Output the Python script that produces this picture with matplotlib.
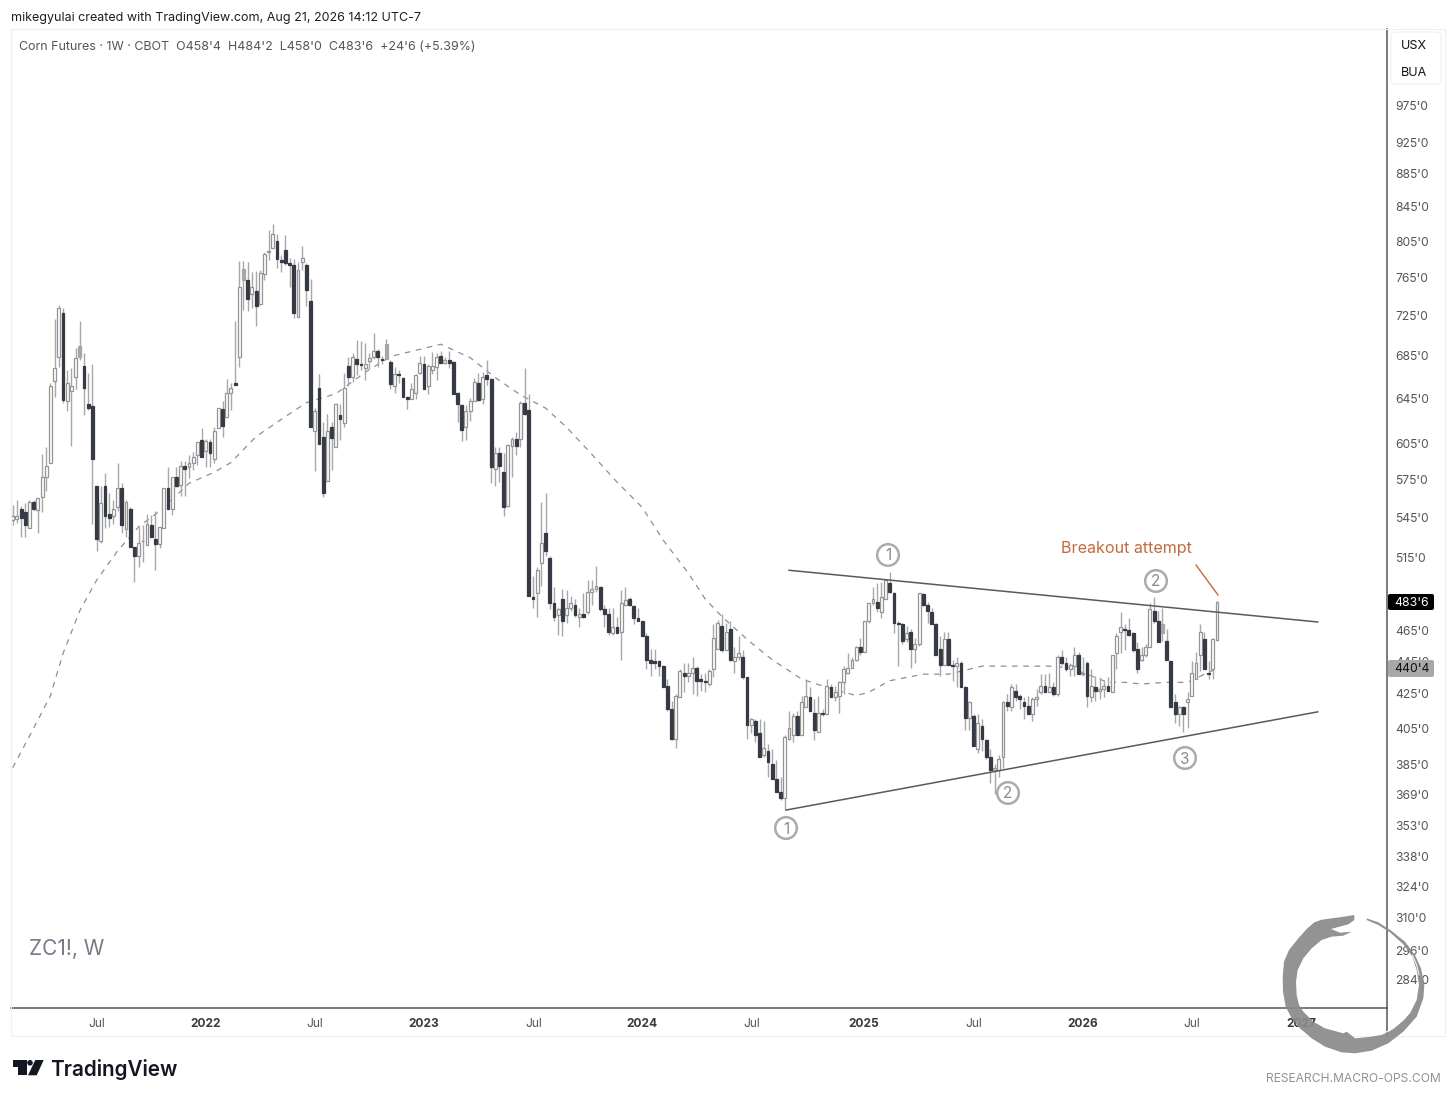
import matplotlib
matplotlib.use("Agg")
import matplotlib.pyplot as plt
from matplotlib.patches import Circle, FancyBboxPatch, Polygon
from matplotlib.ticker import NullLocator

plt.rcParams['font.family'] = ['Inter', 'DejaVu Sans']

# weekly candles (cents per bushel)
opens = [
    543, 544, 552, 549, 537, 557, 551, 561, 577, 589, 661, 684,
    727, 642, 652, 665, 684, 675, 640, 638, 570, 527, 570, 548,
    546, 553, 568, 536, 552, 523, 516, 527, 524, 539, 529, 525,
    537, 568, 552, 577, 571, 586, 585, 589, 595, 608, 599, 606,
    592, 618, 635, 628, 650, 659, 684, 774, 762, 747, 750, 737,
    769, 793, 797, 805, 784, 795, 780, 778, 723, 782, 778, 740,
    616, 654, 611, 574, 619, 602, 630, 623, 675, 665, 682, 677,
    673, 680, 684, 689, 682, 682, 679, 656, 667, 664, 646, 644,
    650, 668, 677, 656, 671, 674, 685, 678, 681, 679, 650, 639,
    619, 633, 642, 659, 644, 666, 663, 584, 597, 581, 554, 603,
    609, 609, 641, 634, 487, 490, 511, 533, 515, 483, 475, 486,
    475, 480, 482, 474, 476, 477, 491, 493, 494, 479, 476, 463,
    467, 464, 482, 486, 481, 473, 471, 461, 446, 445, 445, 442,
    430, 416, 399, 423, 438, 436, 438, 441, 434, 433, 431, 440,
    453, 468, 452, 466, 445, 448, 448, 435, 407, 409, 402, 390,
    392, 385, 377, 370, 367, 399, 401, 412, 401, 417, 423, 414,
    403, 414, 413, 429, 423, 424, 432, 438, 441, 446, 454, 451,
    471, 483, 484, 477, 486, 497, 490, 470, 469, 459, 464, 453,
    456, 489, 482, 477, 469, 453, 443, 459, 443, 442, 444, 429,
    411, 412, 393, 406, 398, 389, 382, 382, 389, 420, 417, 427,
    424, 420, 418, 413, 422, 426, 430, 426, 429, 425, 448, 444,
    440, 442, 449, 437, 444, 423, 429, 427, 428, 430, 426, 450,
    464, 466, 465, 463, 453, 446, 449, 454, 478, 471, 469, 458,
    445, 420, 413, 417, 420, 424, 434, 449, 459, 438, 440, 458.5,
]
highs = [
    555, 559, 554, 556, 559, 559, 559, 596, 602, 659, 721, 736,
    733, 671, 673, 692, 719, 687, 668, 677, 570, 570, 580, 564,
    559, 589, 572, 559, 553, 523, 538, 539, 548, 547, 550, 538,
    568, 585, 577, 585, 590, 590, 595, 598, 606, 618, 609, 609,
    619, 636, 642, 663, 659, 719, 783, 783, 782, 771, 772, 773,
    793, 818, 825, 813, 789, 812, 786, 785, 782, 799, 781, 763,
    636, 667, 624, 631, 624, 641, 640, 668, 684, 687, 700, 699,
    697, 687, 707, 691, 685, 701, 681, 674, 671, 665, 647, 659,
    667, 685, 685, 677, 688, 687, 689, 684, 689, 680, 651, 640,
    639, 645, 664, 668, 669, 681, 664, 602, 602, 597, 605, 611,
    615, 642, 673, 649, 502, 508, 557, 564, 516, 494, 480, 493,
    492, 488, 486, 480, 490, 499, 499, 509, 495, 482, 480, 480,
    474, 492, 494, 487, 482, 480, 471, 463, 453, 453, 446, 443,
    434, 421, 425, 440, 444, 444, 448, 442, 437, 438, 440, 469,
    472, 476, 470, 471, 454, 461, 452, 435, 411, 410, 410, 409,
    396, 393, 387, 378, 401, 415, 414, 415, 424, 434, 429, 422,
    424, 416, 434, 431, 430, 433, 442, 450, 448, 455, 460, 471,
    483, 494, 497, 498, 500, 505, 491, 471, 470, 468, 466, 460,
    490, 490, 484, 480, 470, 461, 464, 464, 446, 448, 445, 430,
    421, 413, 413, 410, 399, 393, 385, 390, 421, 425, 431, 431,
    425, 423, 424, 423, 428, 437, 437, 438, 432, 449, 452, 448,
    444, 454, 451, 448, 445, 440, 436, 435, 433, 435, 449, 463,
    477, 469, 473, 464, 457, 454, 456, 483, 487, 478, 480, 466,
    445, 425, 418, 418, 426, 445, 451, 469, 464, 445, 460, 484.25,
]
lows = [
    539, 541, 530, 530, 537, 551, 533, 549, 566, 589, 646, 674,
    641, 633, 603, 653, 681, 630, 634, 540, 520, 526, 537, 538,
    540, 550, 533, 530, 523, 498, 508, 512, 524, 530, 506, 522,
    537, 552, 547, 569, 562, 562, 576, 583, 587, 594, 585, 585,
    589, 618, 611, 628, 634, 657, 674, 730, 729, 733, 714, 736,
    762, 784, 797, 775, 771, 778, 755, 722, 723, 773, 735, 619,
    582, 605, 561, 574, 583, 602, 608, 619, 656, 660, 666, 671,
    662, 672, 682, 674, 677, 682, 653, 650, 659, 646, 635, 644,
    644, 667, 653, 649, 667, 662, 678, 677, 673, 649, 624, 607,
    608, 625, 642, 642, 640, 657, 572, 570, 573, 546, 553, 577,
    595, 602, 630, 488, 480, 474, 495, 516, 479, 471, 462, 461,
    470, 478, 474, 467, 473, 476, 482, 491, 478, 467, 462, 462,
    463, 446, 481, 481, 469, 471, 461, 440, 436, 440, 436, 429,
    415, 398, 394, 423, 426, 432, 425, 424, 427, 426, 430, 435,
    453, 451, 452, 445, 438, 446, 434, 399, 402, 397, 389, 389,
    378, 377, 370, 366, 361, 398, 397, 401, 401, 417, 415, 398,
    403, 412, 413, 423, 421, 414, 425, 437, 441, 445, 449, 451,
    470, 482, 477, 473, 486, 490, 463, 442, 456, 457, 441, 444,
    455, 481, 470, 469, 449, 436, 443, 443, 433, 429, 429, 404,
    404, 395, 391, 392, 388, 375, 369, 378, 383, 415, 415, 421,
    416, 410, 413, 409, 418, 425, 426, 426, 424, 424, 443, 439,
    436, 436, 437, 436, 417, 420, 421, 422, 423, 427, 426, 440,
    450, 452, 461, 451, 438, 445, 448, 454, 470, 457, 458, 446,
    417, 408, 406, 403, 405, 424, 434, 439, 440, 434, 434, 458,
]
closes = [
    546, 546, 545, 539, 557, 552, 560, 577, 586, 656, 673, 733,
    643, 659, 656, 683, 694, 654, 636, 592, 529, 556, 546, 545,
    552, 568, 539, 557, 523, 516, 526, 527, 540, 530, 525, 538,
    568, 552, 577, 570, 586, 584, 589, 594, 606, 594, 607, 597,
    616, 636, 620, 650, 654, 657, 754, 762, 742, 754, 735, 770,
    790, 794, 813, 785, 782, 780, 778, 727, 773, 786, 751, 619,
    633, 605, 564, 616, 610, 640, 626, 654, 665, 684, 677, 676,
    677, 683, 689, 684, 681, 696, 658, 667, 666, 646, 644, 653,
    666, 678, 653, 675, 675, 684, 678, 681, 678, 649, 640, 617,
    633, 642, 660, 643, 665, 663, 585, 597, 586, 553, 604, 609,
    603, 641, 631, 488, 486, 506, 526, 520, 483, 474, 479, 471,
    480, 483, 475, 476, 474, 491, 493, 495, 479, 476, 464, 467,
    463, 483, 485, 482, 473, 471, 461, 446, 444, 444, 442, 429,
    416, 399, 424, 439, 436, 438, 441, 433, 433, 432, 439, 460,
    470, 452, 464, 446, 448, 450, 435, 407, 410, 401, 389, 394,
    386, 377, 370, 367, 400, 405, 412, 401, 420, 424, 415, 404,
    414, 413, 430, 423, 426, 432, 440, 441, 446, 454, 451, 471,
    483, 486, 480, 487, 499, 491, 470, 469, 458, 463, 453, 456,
    490, 482, 478, 469, 449, 443, 459, 443, 442, 444, 429, 411,
    420, 395, 408, 399, 389, 382, 383, 388, 420, 418, 429, 423,
    422, 418, 413, 422, 423, 430, 426, 429, 425, 448, 444, 440,
    443, 449, 437, 438, 424, 430, 427, 428, 430, 427, 449, 461,
    467, 465, 462, 452, 440, 449, 454, 479, 471, 457, 463, 446,
    417, 413, 417, 413, 422, 438, 444, 464, 440, 437, 459, 483.75,
]
# candles shown in mid gray in the original
gray_weeks = [16, 55, 89, 274]

# dashed moving average, sampled along the curve
ma_weeks = [0, 5, 9, 12, 16, 20, 25, 30, 35, 42, 48, 52,
            58, 64, 70, 77, 84, 90, 96, 102, 109, 115, 121, 127,
            132, 138, 144, 150, 155, 161, 165, 169, 175, 181, 188, 194,
            201, 204, 209, 217, 223, 231, 239, 247, 252, 257, 261, 265,
            269, 275, 280, 284, 287]
ma_vals = [383, 405, 424, 450, 478, 499, 520, 538, 550, 572, 581, 589,
           611, 626, 641, 649, 669, 684, 690, 696, 683, 664, 648, 636,
           619, 596, 573, 553, 528, 504, 486, 474, 459, 446, 434, 429,
           424, 426, 433, 437, 437, 442, 442, 442, 441, 436, 432, 432,
           431, 432, 432, 437, 440.5]

upper_weeks = [185, 311]
upper_vals = [506, 470.4]
lower_weeks = [184.3, 311]
lower_vals = [360.8, 414.4]

price_ticks = [975, 925, 885, 845, 805, 765, 725, 685, 645, 605, 575, 545, 515,
               465, 445, 425, 405, 385, 369, 353, 338, 324, 310, 296, 284]
time_ticks = [20, 46, 72, 98, 124.2, 150, 176.2, 202.7, 229, 255, 281, 307]
time_labels = ['Jul', '2022', 'Jul', '2023', 'Jul', '2024', 'Jul', '2025', 'Jul', '2026', 'Jul', '2027']

W, H = 1456, 1100
fig = plt.figure(figsize=(W / 100, H / 100), dpi=100, facecolor='white')

# main pane: x 11..1387, y 29..1008 in pixels
ax = fig.add_axes([11 / W, 1 - 1008 / H, (1387 - 11) / W, (1008 - 29) / H])
ax.set_yscale('log')
ax.set_xlim(-0.405, 327.5)
ax.set_ylim(272.9, 1085.7)

weeks = list(range(len(closes)))
ax.vlines(weeks, lows, highs, color='#a8a8a8', lw=1.0, zorder=2)
for i in weeks:
    top = max(opens[i], closes[i])
    bot = min(opens[i], closes[i])
    if i in gray_weeks:
        face, edge = '#a6a6a6', '#a6a6a6'
    elif closes[i] >= opens[i]:
        face, edge = 'white', '#949494'
    else:
        face, edge = '#363a45', '#363a45'
    ax.bar(i, max(top - bot, 0.6), bottom=bot, width=0.68, color=face,
           edgecolor=edge, lw=0.9, zorder=3)

ax.plot(ma_weeks, ma_vals, color='#8f8f8f', lw=0.9, dashes=(4.5, 4.5), zorder=1)
ax.plot(upper_weeks, upper_vals, color='#5a5a5a', lw=1.1, zorder=4)
ax.plot(lower_weeks, lower_vals, color='#5a5a5a', lw=1.1, zorder=4)

ax.yaxis.tick_right()
ax.set_yticks(price_ticks, [f"{p}'0" for p in price_ticks])
ax.yaxis.set_minor_locator(NullLocator())
ax.tick_params(axis='y', length=0, pad=6, labelsize=8.7, labelcolor='#555555')
ax.set_xticks(time_ticks, time_labels)
ax.tick_params(axis='x', length=0, pad=7, labelsize=8.6, labelcolor='#555555')
for lab in ax.get_xticklabels():
    if lab.get_text() != 'Jul':
        lab.set_fontweight('bold')
        lab.set_color('#3a3a3a')

for side in ['top', 'left']:
    ax.spines[side].set_color('#efefef')
    ax.spines[side].set_linewidth(0.8)
for side in ['bottom', 'right']:
    ax.spines[side].set_color('#55575f')
    ax.spines[side].set_linewidth(1.1)

# pixel overlay for the decorations around the chart
over = fig.add_axes([0, 0, 1, 1], zorder=5)
over.set_xlim(0, W)
over.set_ylim(H, 0)
over.axis('off')

# outer frame
over.plot([11, 1445, 1445, 11, 11], [29, 29, 1036, 1036, 29], color='#f0f0f0', lw=0.8, zorder=0)
over.plot([1387, 1387], [1008, 1036], color='#55575f', lw=1.1, zorder=1)

over.text(11, 17.5, 'mikegyulai created with TradingView.com, Aug 21, 2026 14:12 UTC-7',
          fontsize=9.0, color='#1e1e1e', va='center')
over.text(19, 46.5, "Corn Futures · 1W · CBOT  O458'4  H484'2  L458'0  C483'6  +24'6 (+5.39%)",
          fontsize=8.95, color='#555555', va='center')
over.text(29, 949, 'ZC1!, W', fontsize=15, color='#787b86', va='center')
over.text(1061, 549, 'Breakout attempt', fontsize=11.55, color='#c4693b', va='center')
over.plot([1196, 1218], [565, 595], color='#c4693b', lw=1.0)

# numbered wave markers
markers = [('1', 888, 555), ('2', 1156, 581), ('1', 786, 828), ('2', 1008, 793), ('3', 1185, 758)]
for num, mx, my in markers:
    over.add_patch(Circle((mx, my), 10.8, fc='white', ec='#ababab', lw=1.8, zorder=3))
    over.text(mx, my + 1, num, fontsize=11, color='#8a8a8a', ha='center', va='center', zorder=4)

# currency / unit box
over.add_patch(FancyBboxPatch((1391, 32), 50, 52, boxstyle='round,pad=0,rounding_size=5',
                              fc='white', ec='#f0f0f0', lw=0.8))
over.text(1413.5, 46, 'USX', fontsize=9, color='#111111', ha='center', va='center')
over.text(1413.5, 72.5, 'BUA', fontsize=9, color='#111111', ha='center', va='center')

# last price and moving average tags
over.add_patch(FancyBboxPatch((1388, 594), 46, 16, boxstyle='round,pad=0,rounding_size=2',
                              fc='#000000', ec='none', zorder=3))
over.text(1412, 603, "483'6", fontsize=8.8, color='white', ha='center', va='center', zorder=4)
over.add_patch(FancyBboxPatch((1388, 660), 46, 17, boxstyle='round,pad=0,rounding_size=2',
                              fc='#a8a8a8', ec='none', zorder=3))
over.text(1412, 669.5, "440'4", fontsize=8.8, color='#111111', ha='center', va='center', zorder=4)

# TradingView logo
over.add_patch(Polygon([(12.7, 1060), (26.7, 1060), (26.7, 1075), (18.3, 1075), (18.3, 1066.7), (12.7, 1066.7)],
                       fc='#131722', ec='none'))
over.add_patch(Circle((30, 1062.8), 2.8, fc='#131722', ec='none'))
over.add_patch(Polygon([(35.3, 1060), (43.7, 1060), (36.7, 1075.3), (28, 1075.3)], fc='#131722', ec='none'))
over.text(50.5, 1070, 'TradingView', fontsize=14.9, color='#131722', fontweight='semibold', va='center')

over.text(1441, 1079.5, 'RESEARCH.MACRO-OPS.COM', fontsize=8.7, color='#929292', ha='right', va='center')

# snake ring watermark, outline
snake_zoom = [(238, 30), (200, 36), (170, 40), (140, 44), (118, 52), (95, 72), (70, 100), (42, 135),
              (27, 170), (23, 215), (24, 260), (32, 305), (50, 340), (75, 370), (110, 400), (150, 425),
              (200, 442), (240, 445), (290, 437), (340, 415), (385, 380), (425, 335), (445, 280),
              (448, 240), (438, 190), (420, 150), (390, 110), (350, 78), (310, 52), (275, 40),
              (275, 45), (310, 60), (345, 82), (385, 118), (412, 155), (425, 195), (432, 240),
              (425, 285), (405, 325), (375, 355), (345, 378), (318, 390), (290, 395), (240, 400),
              (228, 390), (215, 380), (205, 385), (180, 378), (150, 370), (115, 350), (85, 320),
              (72, 300), (65, 270), (63, 230), (68, 195), (85, 160), (110, 130), (140, 105),
              (170, 95), (205, 92), (230, 80), (195, 83), (168, 72), (220, 58), (238, 45)]
snake_px = [(1275 + zx / 3, 905 + zy / 3) for zx, zy in snake_zoom]
over.add_patch(Polygon(snake_px, closed=True, fc='#8a8a8a', ec='none', alpha=0.92, zorder=6))
# white slivers in the tail
for sliver in ([(412, 150), (425, 180), (432, 210)], [(415, 300), (390, 340), (355, 370), (320, 388)]):
    over.plot([1275 + zx / 3 for zx, zy in sliver], [905 + zy / 3 for zx, zy in sliver],
              color='white', lw=0.7, zorder=7)

fig.savefig('out.png', dpi=100, facecolor='white')
